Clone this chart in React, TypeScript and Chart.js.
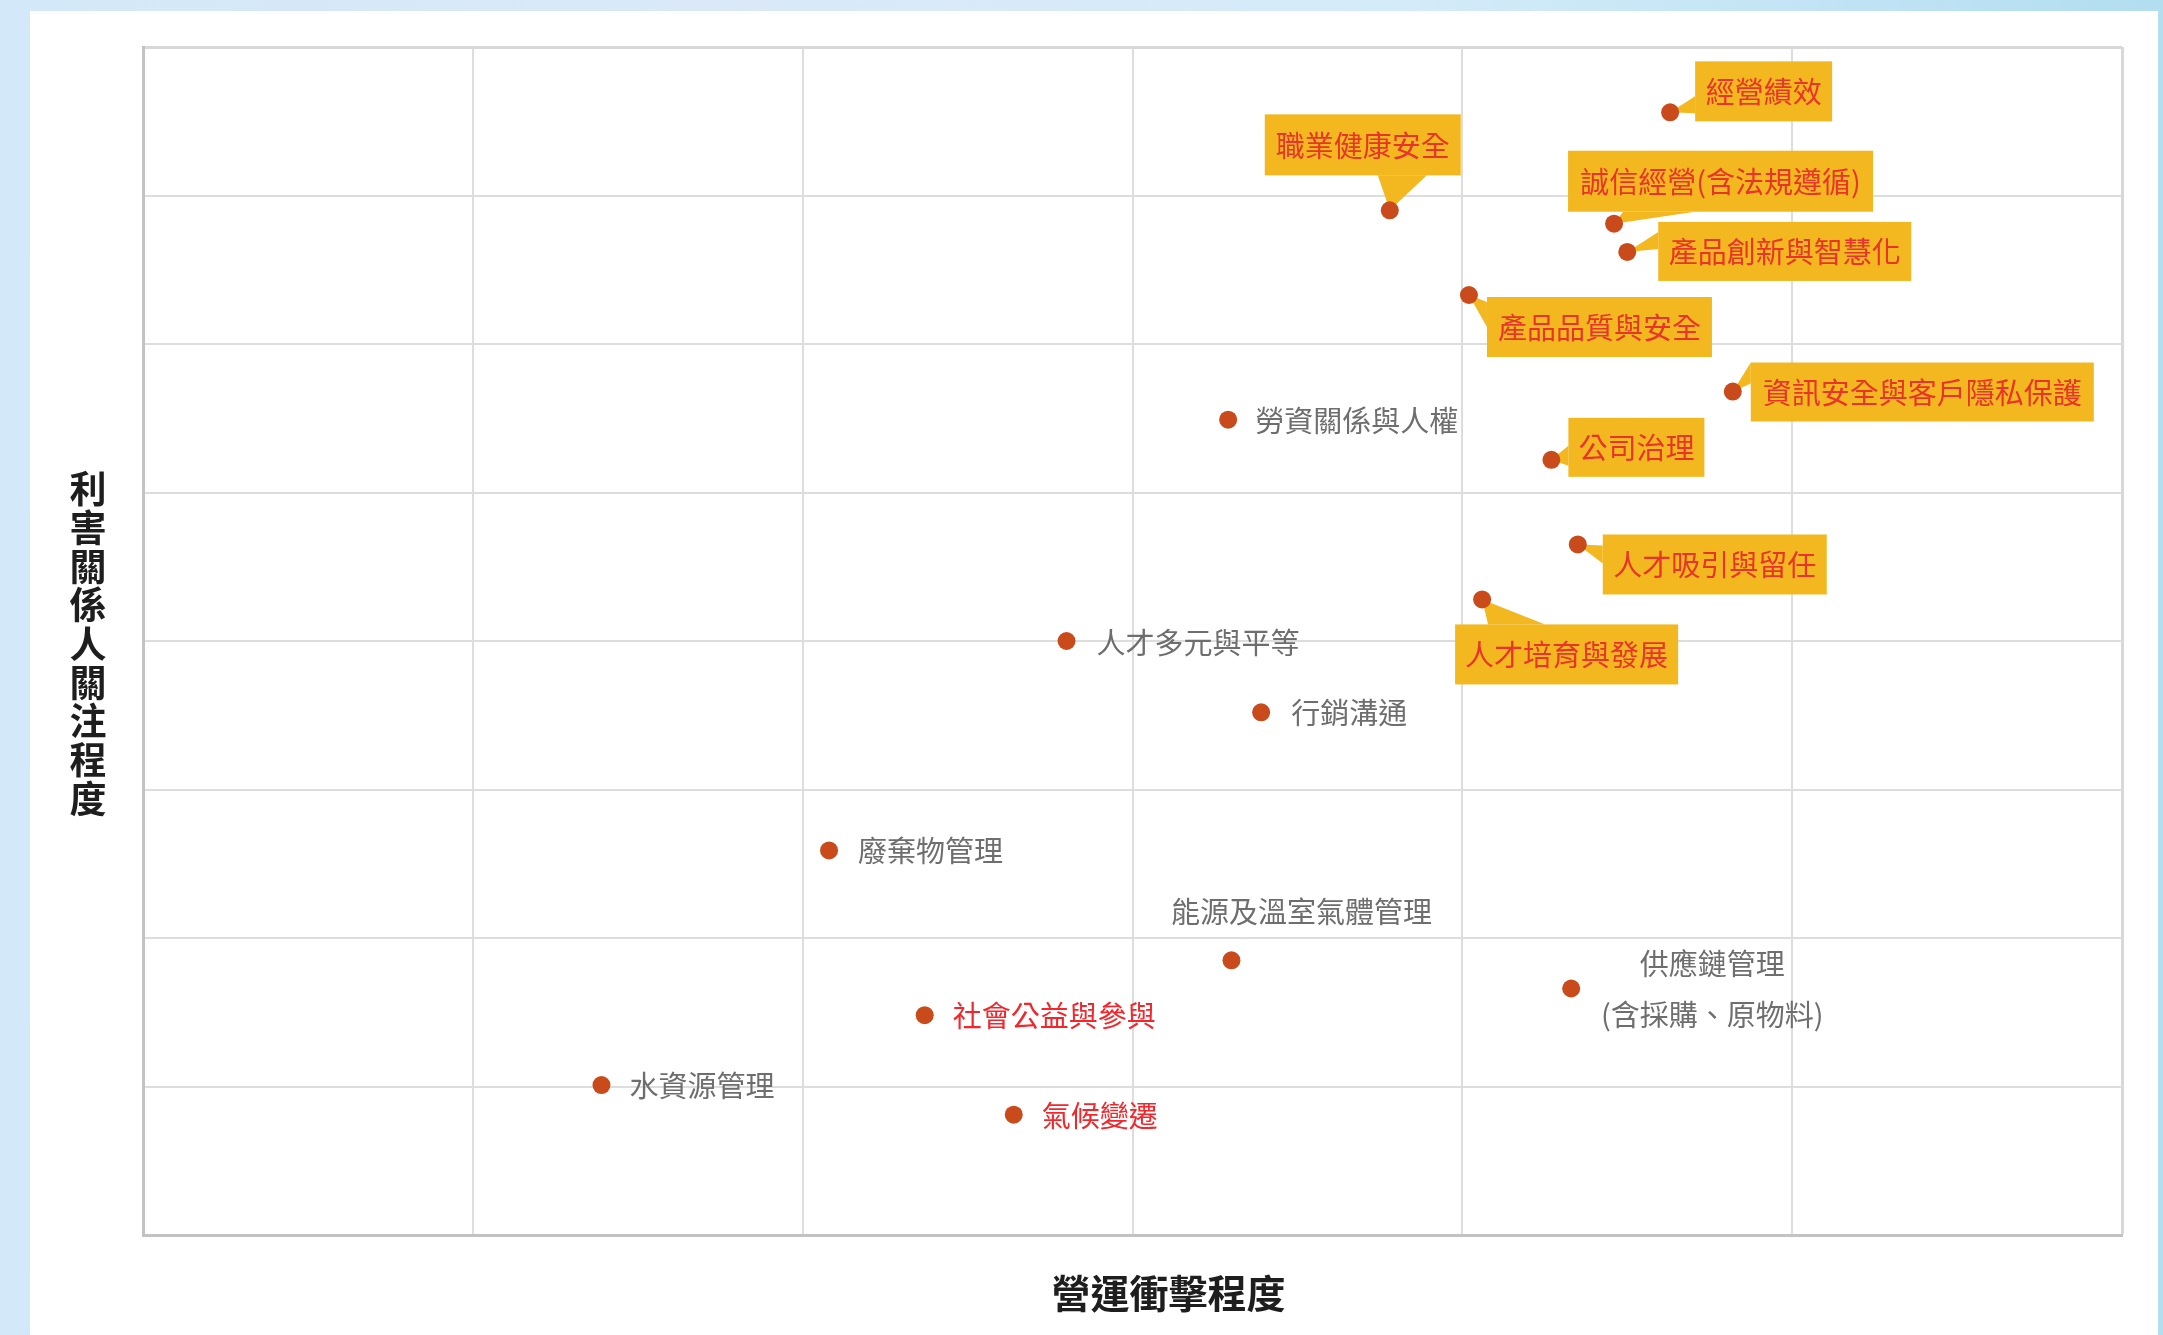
import React, { useEffect, useRef } from 'react';
import { Chart, registerables } from 'chart.js';

Chart.register(...registerables);

// ---------- data ----------
const topics: string[] = [
  '經營績效',
  '職業健康安全',
  '誠信經營(含法規遵循)',
  '產品創新與智慧化',
  '產品品質與安全',
  '資訊安全與客戶隱私保護',
  '勞資關係與人權',
  '公司治理',
  '人才吸引與留任',
  '人才培育與發展',
  '人才多元與平等',
  '行銷溝通',
  '廢棄物管理',
  '能源及溫室氣體管理',
  '供應鏈管理(含採購、原物料)',
  '社會公益與參與',
  '水資源管理',
  '氣候變遷',
];
const impactScores: number[] = [4.63, 3.78, 4.46, 4.5, 4.02, 4.82, 3.29, 4.27, 4.35, 4.06, 2.8, 3.39, 2.08, 3.3, 4.33, 2.37, 1.39, 2.64];
const concernScores: number[] = [7.56, 6.9, 6.81, 6.62, 6.33, 5.68, 5.49, 5.22, 4.65, 4.28, 4.0, 3.52, 2.59, 1.85, 1.66, 1.48, 1.01, 0.81];
const xTitle = '營運衝擊程度';
const yTitle = '利害關係人關注程度';
const xRange: [number, number] = [0, 6];
const yRange: [number, number] = [0, 8];

// ---------- label layout (styles / offsets, relative to each dot) ----------
type BoxLabel = { kind: 'box'; dx: number; dy: number; w: number; h: number; tail: [number, number][] };
type TextLabel = { kind: 'text'; color: string; dx: number; dy: number; align: CanvasTextAlign; lines?: string[]; lineGap?: number };
type LabelStyle = BoxLabel | TextLabel;

const GREY = '#6e6e6e';
const RED = '#f2262b';
const labelStyles: LabelStyle[] = [
  { kind: 'box', dx: 25, dy: -51, w: 137, h: 60, tail: [[0, 35], [0, 52]] },
  { kind: 'box', dx: -125, dy: -96, w: 196, h: 61, tail: [[113, 61], [162, 61]] },
  { kind: 'box', dx: -46, dy: -73, w: 305, h: 61, tail: [[55, 61], [127, 61]] },
  { kind: 'box', dx: 31, dy: -30, w: 253, h: 59, tail: [[0, 10], [0, 27]] },
  { kind: 'box', dx: 18, dy: 2, w: 225, h: 60, tail: [[0, 5], [0, 30]] },
  { kind: 'box', dx: 18, dy: -29, w: 343, h: 59, tail: [[0, 0], [0, 21]] },
  { kind: 'text', color: GREY, dx: 27, dy: 1, align: 'left' },
  { kind: 'box', dx: 17, dy: -42, w: 136, h: 59, tail: [[0, 28], [0, 48]] },
  { kind: 'box', dx: 25, dy: -10, w: 224, h: 60, tail: [[0, 11], [0, 29]] },
  { kind: 'box', dx: -27, dy: 25, w: 223, h: 60, tail: [[33, 0], [90, 0]] },
  { kind: 'text', color: GREY, dx: 30, dy: 2, align: 'left' },
  { kind: 'text', color: GREY, dx: 30, dy: 1, align: 'left' },
  { kind: 'text', color: GREY, dx: 29, dy: 1, align: 'left' },
  { kind: 'text', color: GREY, dx: 70, dy: -48, align: 'center' },
  { kind: 'text', color: GREY, dx: 141, dy: -25, align: 'center', lines: ['供應鏈管理', '(含採購、原物料)'], lineGap: 51 },
  { kind: 'text', color: RED, dx: 28, dy: 1, align: 'left' },
  { kind: 'text', color: GREY, dx: 28, dy: 1, align: 'left' },
  { kind: 'text', color: RED, dx: 28, dy: 1, align: 'left' },
];

const FONT = '"Noto Sans CJK TC", "Noto Sans CJK SC", sans-serif';
const BOX_FILL = '#f3b81f';
const BOX_TEXT = '#e8342a';
const DOT = '#c94b1c';

export default function App() {
  const ref = useRef<HTMLCanvasElement>(null);

  useEffect(() => {
    const canvas = ref.current;
    if (!canvas) return;

    const labelPlugin = {
      id: 'materialityLabels',
      beforeDatasetsDraw(chart: any) {
        const ctx: CanvasRenderingContext2D = chart.ctx;
        const xs = chart.scales.x;
        const ys = chart.scales.y;
        ctx.save();
        labelStyles.forEach((st, i) => {
          if (st.kind !== 'box') return;
          const px = xs.getPixelForValue(impactScores[i]);
          const py = ys.getPixelForValue(concernScores[i]);
          const bx = px + st.dx;
          const by = py + st.dy;
          ctx.fillStyle = BOX_FILL;
          ctx.beginPath();
          ctx.moveTo(px, py);
          ctx.lineTo(bx + st.tail[0][0], by + st.tail[0][1]);
          ctx.lineTo(bx + st.tail[1][0], by + st.tail[1][1]);
          ctx.closePath();
          ctx.fill();
          ctx.fillRect(bx, by, st.w, st.h);
          ctx.fillStyle = BOX_TEXT;
          ctx.font = `29px ${FONT}`;
          ctx.textAlign = 'center';
          ctx.textBaseline = 'middle';
          ctx.fillText(topics[i], bx + st.w / 2, by + st.h / 2 + 1);
        });
        ctx.restore();
      },
      afterDatasetsDraw(chart: any) {
        const ctx: CanvasRenderingContext2D = chart.ctx;
        const xs = chart.scales.x;
        const ys = chart.scales.y;
        ctx.save();
        ctx.font = `29px ${FONT}`;
        ctx.textBaseline = 'middle';
        labelStyles.forEach((st, i) => {
          if (st.kind !== 'text') return;
          const px = xs.getPixelForValue(impactScores[i]);
          const py = ys.getPixelForValue(concernScores[i]);
          ctx.fillStyle = st.color;
          ctx.textAlign = st.align;
          const lines = st.lines ?? [topics[i]];
          const gap = st.lineGap ?? 0;
          lines.forEach((ln, k) => {
            ctx.fillText(ln, px + st.dx, py + st.dy + k * gap);
          });
        });
        ctx.restore();
      },
      afterDraw(chart: any) {
        const ctx: CanvasRenderingContext2D = chart.ctx;
        const area = chart.chartArea;
        ctx.save();
        ctx.fillStyle = '#1e1e1e';
        ctx.textAlign = 'center';
        ctx.textBaseline = 'middle';
        ctx.font = `bold 39px ${FONT}`;
        ctx.fillText(xTitle, (area.left + area.right) / 2 + 36, area.bottom + 58);
        ctx.font = `bold 37px ${FONT}`;
        const chars = Array.from(yTitle);
        const step = 38.7;
        const cy = (area.top + area.bottom) / 2 + 3;
        const startY = cy - ((chars.length - 1) * step) / 2;
        chars.forEach((c, k) => ctx.fillText(c, 88, startY + k * step));
        ctx.restore();
      },
    };

    const lastX = xRange[1] - xRange[0];
    const lastY = yRange[1] - yRange[0];

    const chart = new Chart(canvas, {
      type: 'scatter',
      data: {
        datasets: [
          {
            label: 'topics',
            data: impactScores.map((x, i) => ({ x, y: concernScores[i] })),
            backgroundColor: DOT,
            borderColor: DOT,
            borderWidth: 0,
            pointRadius: 9,
            pointHoverRadius: 9,
          },
        ],
      },
      options: {
        animation: false,
        responsive: false,
        events: [],
        layout: { padding: { left: 143, right: 41, top: 47, bottom: 100 } },
        plugins: { legend: { display: false }, tooltip: { enabled: false } },
        scales: {
          x: {
            type: 'linear',
            min: xRange[0],
            max: xRange[1],
            ticks: { display: false, stepSize: 1 },
            grid: {
              drawTicks: false,
              color: (c: any) => (c.index === lastX ? '#d8d8d8' : '#dddddd'),
              lineWidth: (c: any) => (c.index === lastX ? 3 : 2),
            },
            border: { color: '#c3c3c3', width: 3 },
          },
          y: {
            type: 'linear',
            min: yRange[0],
            max: yRange[1],
            ticks: { display: false, stepSize: 1 },
            grid: {
              drawTicks: false,
              color: (c: any) => (c.index === lastY ? '#d8d8d8' : '#dddddd'),
              lineWidth: (c: any) => (c.index === lastY ? 3 : 2),
            },
            border: { color: '#c3c3c3', width: 3 },
          },
        },
      },
      plugins: [labelPlugin],
    });

    return () => chart.destroy();
  }, []);

  return (
    <div
      style={{
        position: 'fixed',
        left: 0,
        top: 0,
        width: 2163,
        height: 1335,
        overflow: 'hidden',
        background: 'linear-gradient(90deg, #d3e8f8 0%, #dbe9f7 35%, #d4ebf9 65%, #b2def0 100%)',
      }}
    >
      <div
        style={{
          position: 'absolute',
          left: 30,
          top: 11,
          width: 2128,
          height: 1340,
          background: '#ffffff',
        }}
      />
      <canvas
        ref={ref}
        width={2163}
        height={1335}
        style={{ position: 'absolute', left: 0, top: 0, width: 2163, height: 1335 }}
      />
    </div>
  );
}
